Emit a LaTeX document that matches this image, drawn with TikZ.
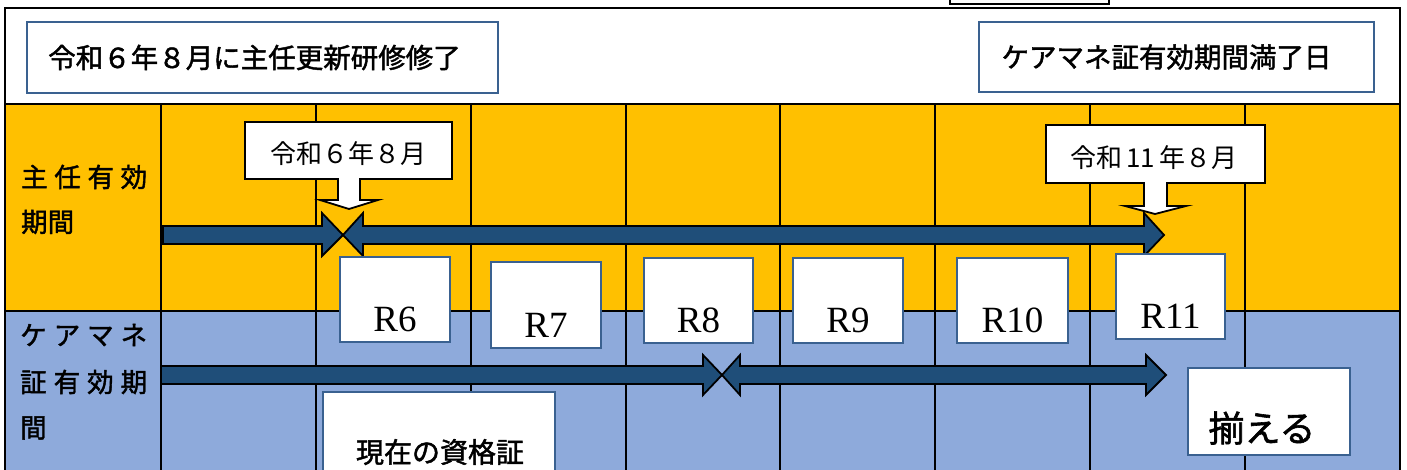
\documentclass[tikz,border=0pt]{standalone}
\usepackage{fontspec}
\usetikzlibrary{calc}
\newfontfamily\jp[FakeBold=1.6]{Noto Sans CJK JP}
\newfontfamily\jpl{Noto Sans CJK JP}
\newfontfamily\rom{Liberation Serif}
\definecolor{yel}{HTML}{FFC000}
\definecolor{lblue}{HTML}{8EAADB}
\definecolor{navy}{HTML}{1F4E79}
\definecolor{edge}{HTML}{3A6190}
\newcommand{\jfs}[1]{\fontsize{#1}{#1}\selectfont}
\begin{document}
\begin{tikzpicture}[x=1pt,y=-1pt,
  grid/.style={line width=1.6pt, black},
  bbox/.style={draw=edge, line width=2.2pt, fill=white, inner sep=0pt},
  arr/.style={fill=navy, draw=black, line width=1.8pt, line join=miter},
  callout/.style={fill=white, draw=black, line width=1.8pt, line join=miter},
  rtxt/.style={font=\rom\jfs{37}, inner sep=0pt, anchor=base},
  lab/.style={font=\jp\jfs{26.5}, inner sep=0pt, anchor=west},
  ctxt/.style={font=\jpl\jfs{26}, inner sep=0pt}]
\useasboundingbox (0,0) rectangle (1407,470);
\clip (0,0) rectangle (1407,470);
\fill[white] (0,0) rectangle (1407,470);
\fill[yel] (5,104) rectangle (1400,311);
\fill[lblue] (5,311) rectangle (1400,480);
% small box at the top
\draw[line width=1.6pt] (950,-6) rectangle (1109,4);
% frame and grid
\draw[line width=2pt] (5,480) -- (5,8) -- (1400,8) -- (1400,480);
\draw[grid] (5,104) -- (1400,104);
\draw[grid] (5,311) -- (1400,311);
\foreach \x in {161,316,471,626,780,935,1090,1245} \draw[grid] (\x,104) -- (\x,480);

% header boxes
\node[bbox, minimum width=471, minimum height=71, font=\jp\jfs{27.5}] (hdrL) at (262.5,57.5) {令和６年８月に主任更新研修修了\hspace*{16pt}};
\node[bbox, minimum width=395, minimum height=70, font=\jp\jfs{27.5}] (hdrR) at (1176.5,57) {ケアマネ証有効期間満了日\hspace*{20pt}};

% row labels
\node[lab] (la1) at (21,177) {\makebox[126pt][s]{主\hfill 任\hfill 有\hfill 効}};
\node[lab] (la2) at (21,222) {期間};
\node[lab] (lb1) at (20,335) {\makebox[127pt][s]{ケ\hfill ア\hfill マ\hfill ネ}};
\node[lab] (lb2) at (20,382) {\makebox[127pt][s]{証\hfill 有\hfill 効\hfill 期}};
\node[lab] (lb3) at (20,428) {間};

% top row arrows
\draw[arr] (163,226) -- (322,226) -- (322,213) -- (343,235) -- (322,256) -- (322,244) -- (163,244) -- cycle;
\draw[arr] (343,235) -- (363,213) -- (363,226) -- (1144,226) -- (1144,213) -- (1164,235) -- (1144,256) -- (1144,244) -- (363,244) -- (363,256) -- cycle;

% bottom row arrows
\draw[arr] (161,366) -- (703,366) -- (703,355) -- (722,375) -- (703,395) -- (703,384) -- (161,384) -- cycle;
\draw[arr] (722,375) -- (740,355) -- (740,366) -- (1146,366) -- (1146,355) -- (1166,375) -- (1146,395) -- (1146,384) -- (740,384) -- (740,395) -- cycle;

% callouts
\draw[callout] (245,122) -- (452,122) -- (452,179) -- (360,179) -- (360,200) -- (378,200) -- (349,209) -- (320,200) -- (338,200) -- (338,179) -- (245,179) -- cycle;
\node[ctxt] (c1) at (348.5,154) {令和６年８月};
\draw[callout] (1046,125) -- (1265,125) -- (1265,183) -- (1167,183) -- (1167,206) -- (1186,206) -- (1155,214) -- (1125,206) -- (1144,206) -- (1144,183) -- (1046,183) -- cycle;
\node[ctxt] (c2) at (1154,158) {令和\,11\,年８月};

% year boxes
\node[bbox, minimum width=110, minimum height=85] (r6) at (395,299.5) {};
\node[bbox, minimum width=110, minimum height=86] (r7) at (546,305) {};
\node[bbox, minimum width=109, minimum height=85] (r8) at (698.5,300.5) {};
\node[bbox, minimum width=110, minimum height=85] (r9) at (848,300.5) {};
\node[bbox, minimum width=111, minimum height=85] (r10) at (1012.5,300.5) {};
\node[bbox, minimum width=109, minimum height=85] (r11) at (1170.5,296.5) {};
\node[rtxt] (t6) at ($(r6.south)+(0,-12)$) {R6};
\node[rtxt] (t7) at ($(r7.south)+(0,-12)$) {R7};
\node[rtxt] (t8) at ($(r8.south)+(0,-12)$) {R8};
\node[rtxt] (t9) at ($(r9.south)+(0,-12)$) {R9};
\node[rtxt] (t10) at ($(r10.south)+(0,-12)$) {R10};
\node[rtxt] (t11) at ($(r11.south)+(0,-12)$) {R11};

% bottom boxes
\node[bbox, minimum width=232, minimum height=100] (cur) at (439,442) {};
\node[font=\jp\jfs{28}, inner sep=0pt] (curt) at (440,452) {現在の資格証};
\node[bbox, minimum width=162, minimum height=87] (align) at (1269,411.5) {};
\node[font=\jp\jfs{36}, inner sep=0pt] (alignt) at (1262,428) {揃える};
\end{tikzpicture}
\end{document}
